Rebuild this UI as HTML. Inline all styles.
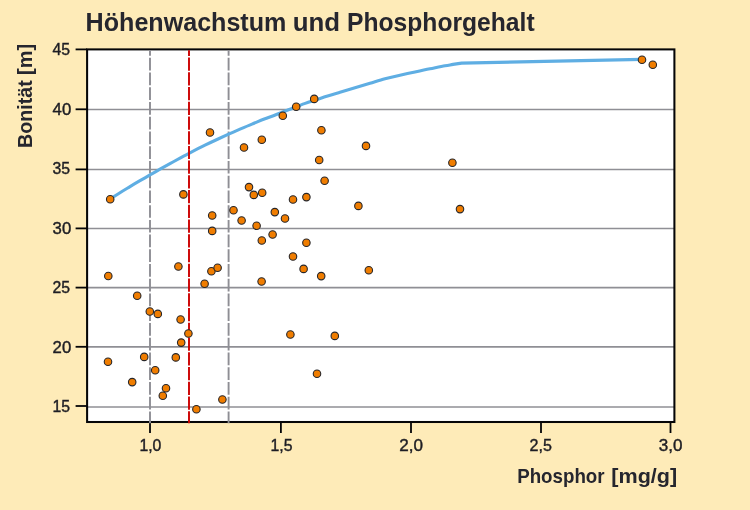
<!DOCTYPE html>
<html lang="de"><head><meta charset="utf-8"><title>Höhenwachstum und Phosphorgehalt</title>
<style>
html,body{margin:0;padding:0;background:#FEEBB8;}
body{width:750px;height:510px;overflow:hidden;}
svg{display:block;font-family:"Liberation Sans",sans-serif;}
.t{font-weight:bold;fill:#26262e;}
.n{font-size:15.8px;fill:#1e1e24;stroke:#1e1e24;stroke-width:0.4px;}
</style></head><body>
<svg width="750" height="510" viewBox="0 0 750 510">
<rect x="0" y="0" width="750" height="510" fill="#FEEBB8"/>
<rect x="87.1" y="49.4" width="587.3" height="372.6" fill="#ffffff"/>
<line x1="87.1" y1="109.5" x2="674.4" y2="109.5" stroke="#8f8f95" stroke-width="1.7"/>
<line x1="87.1" y1="169.5" x2="674.4" y2="169.5" stroke="#8f8f95" stroke-width="1.7"/>
<line x1="87.1" y1="228.5" x2="674.4" y2="228.5" stroke="#8f8f95" stroke-width="1.7"/>
<line x1="87.1" y1="287.7" x2="674.4" y2="287.7" stroke="#8f8f95" stroke-width="1.7"/>
<line x1="87.1" y1="346.9" x2="674.4" y2="346.9" stroke="#8f8f95" stroke-width="1.7"/>
<line x1="87.1" y1="407.0" x2="674.4" y2="407.0" stroke="#8f8f95" stroke-width="1.7"/>
<rect x="87.1" y="49.4" width="587.3" height="372.6" fill="none" stroke="#050507" stroke-width="2.05"/>
<line x1="75.6" y1="49.4" x2="87.1" y2="49.4" stroke="#050507" stroke-width="1.8"/>
<line x1="75.6" y1="109.3" x2="87.1" y2="109.3" stroke="#050507" stroke-width="1.8"/>
<line x1="75.6" y1="169.4" x2="87.1" y2="169.4" stroke="#050507" stroke-width="1.8"/>
<line x1="75.6" y1="228.4" x2="87.1" y2="228.4" stroke="#050507" stroke-width="1.8"/>
<line x1="75.6" y1="287.6" x2="87.1" y2="287.6" stroke="#050507" stroke-width="1.8"/>
<line x1="75.6" y1="346.8" x2="87.1" y2="346.8" stroke="#050507" stroke-width="1.8"/>
<line x1="75.6" y1="406.0" x2="87.1" y2="406.0" stroke="#050507" stroke-width="1.8"/>
<line x1="150.0" y1="422.0" x2="150.0" y2="433.0" stroke="#050507" stroke-width="1.8"/>
<line x1="280.9" y1="422.0" x2="280.9" y2="433.0" stroke="#050507" stroke-width="1.8"/>
<line x1="411.0" y1="422.0" x2="411.0" y2="433.0" stroke="#050507" stroke-width="1.8"/>
<line x1="541.0" y1="422.0" x2="541.0" y2="433.0" stroke="#050507" stroke-width="1.8"/>
<line x1="670.5" y1="422.0" x2="670.5" y2="433.0" stroke="#050507" stroke-width="1.8"/>
<line x1="150.0" y1="50.3" x2="150.0" y2="423.2" stroke="#8e8e94" stroke-width="1.9" stroke-dasharray="12.7 2.04" stroke-dashoffset="7.3"/>
<line x1="228.6" y1="50.3" x2="228.6" y2="423.2" stroke="#8e8e94" stroke-width="1.9" stroke-dasharray="12.7 2.04" stroke-dashoffset="7.3"/>
<path d="M110.2,198.9 C111.8,197.9 116.7,194.8 120,192.7 C123.3,190.6 126.7,188.6 130,186.6 C133.3,184.6 136.7,182.6 140,180.7 C143.3,178.8 146.7,176.8 150,174.9 C153.3,173.0 156.7,171.1 160,169.2 C163.3,167.3 166.7,165.4 170,163.6 C173.3,161.8 176.8,159.9 180,158.2 C183.2,156.5 184.8,155.6 189,153.4 C193.2,151.2 200.3,147.5 205,145.2 C209.7,142.9 213.1,141.3 217,139.5 C220.9,137.7 224.8,135.9 228.6,134.2 C232.4,132.5 236.1,130.9 240,129.2 C243.9,127.5 247.8,125.8 252,124.1 C256.2,122.4 260.8,120.4 265,118.8 C269.2,117.2 273.0,115.8 277,114.2 C281.0,112.7 284.4,111.3 289.1,109.5 C293.8,107.7 299.2,105.5 305.2,103.4 C311.2,101.3 319.2,98.7 325,96.8 C330.8,94.9 335.0,93.7 340,92.2 C345.0,90.7 350.0,89.3 355,87.8 C360.0,86.3 365.0,84.8 370,83.3 C375.0,81.8 380.0,80.1 385,78.8 C390.0,77.5 395.0,76.3 400,75.2 C405.0,74.1 410.0,73.1 415,72.0 C420.0,70.9 425.0,69.8 430,68.8 C435.0,67.8 441.2,66.5 445,65.8 C448.8,65.1 450.2,64.9 453,64.4 C455.8,64.0 460.2,63.3 461.7,63.1 L642,59.4" fill="none" stroke="#5faee3" stroke-width="3.1" stroke-linejoin="round" stroke-linecap="round"/>
<line x1="189.0" y1="50.3" x2="189.0" y2="423.2" stroke="#cc0000" stroke-width="1.9" stroke-dasharray="13.24 1.5" stroke-dashoffset="7.6"/>
<circle cx="210" cy="132.5" r="3.75" fill="#f07d00" stroke="#26262a" stroke-width="1.1"/>
<circle cx="110.2" cy="199.2" r="3.75" fill="#f07d00" stroke="#26262a" stroke-width="1.1"/>
<circle cx="183.4" cy="194.4" r="3.75" fill="#f07d00" stroke="#26262a" stroke-width="1.1"/>
<circle cx="212.2" cy="215.5" r="3.75" fill="#f07d00" stroke="#26262a" stroke-width="1.1"/>
<circle cx="233.5" cy="210.2" r="3.75" fill="#f07d00" stroke="#26262a" stroke-width="1.1"/>
<circle cx="212.2" cy="230.9" r="3.75" fill="#f07d00" stroke="#26262a" stroke-width="1.1"/>
<circle cx="178.4" cy="266.5" r="3.75" fill="#f07d00" stroke="#26262a" stroke-width="1.1"/>
<circle cx="108.3" cy="276.0" r="3.75" fill="#f07d00" stroke="#26262a" stroke-width="1.1"/>
<circle cx="211.4" cy="271.3" r="3.75" fill="#f07d00" stroke="#26262a" stroke-width="1.1"/>
<circle cx="217.6" cy="267.7" r="3.75" fill="#f07d00" stroke="#26262a" stroke-width="1.1"/>
<circle cx="204.6" cy="283.8" r="3.75" fill="#f07d00" stroke="#26262a" stroke-width="1.1"/>
<circle cx="137.2" cy="295.7" r="3.75" fill="#f07d00" stroke="#26262a" stroke-width="1.1"/>
<circle cx="149.8" cy="311.5" r="3.75" fill="#f07d00" stroke="#26262a" stroke-width="1.1"/>
<circle cx="157.8" cy="313.9" r="3.75" fill="#f07d00" stroke="#26262a" stroke-width="1.1"/>
<circle cx="180.6" cy="319.5" r="3.75" fill="#f07d00" stroke="#26262a" stroke-width="1.1"/>
<circle cx="188.4" cy="333.5" r="3.75" fill="#f07d00" stroke="#26262a" stroke-width="1.1"/>
<circle cx="181.2" cy="342.6" r="3.75" fill="#f07d00" stroke="#26262a" stroke-width="1.1"/>
<circle cx="144.2" cy="356.9" r="3.75" fill="#f07d00" stroke="#26262a" stroke-width="1.1"/>
<circle cx="175.8" cy="357.4" r="3.75" fill="#f07d00" stroke="#26262a" stroke-width="1.1"/>
<circle cx="108" cy="361.7" r="3.75" fill="#f07d00" stroke="#26262a" stroke-width="1.1"/>
<circle cx="155.2" cy="370.3" r="3.75" fill="#f07d00" stroke="#26262a" stroke-width="1.1"/>
<circle cx="132.2" cy="382.1" r="3.75" fill="#f07d00" stroke="#26262a" stroke-width="1.1"/>
<circle cx="166" cy="388.3" r="3.75" fill="#f07d00" stroke="#26262a" stroke-width="1.1"/>
<circle cx="162.8" cy="395.7" r="3.75" fill="#f07d00" stroke="#26262a" stroke-width="1.1"/>
<circle cx="222.4" cy="399.5" r="3.75" fill="#f07d00" stroke="#26262a" stroke-width="1.1"/>
<circle cx="196.4" cy="409.3" r="3.75" fill="#f07d00" stroke="#26262a" stroke-width="1.1"/>
<circle cx="314.2" cy="98.9" r="3.75" fill="#f07d00" stroke="#26262a" stroke-width="1.1"/>
<circle cx="296.2" cy="106.7" r="3.75" fill="#f07d00" stroke="#26262a" stroke-width="1.1"/>
<circle cx="282.8" cy="115.7" r="3.75" fill="#f07d00" stroke="#26262a" stroke-width="1.1"/>
<circle cx="321.4" cy="130.3" r="3.75" fill="#f07d00" stroke="#26262a" stroke-width="1.1"/>
<circle cx="261.8" cy="139.7" r="3.75" fill="#f07d00" stroke="#26262a" stroke-width="1.1"/>
<circle cx="244" cy="147.5" r="3.75" fill="#f07d00" stroke="#26262a" stroke-width="1.1"/>
<circle cx="366" cy="145.9" r="3.75" fill="#f07d00" stroke="#26262a" stroke-width="1.1"/>
<circle cx="319.2" cy="160.0" r="3.75" fill="#f07d00" stroke="#26262a" stroke-width="1.1"/>
<circle cx="324.6" cy="180.7" r="3.75" fill="#f07d00" stroke="#26262a" stroke-width="1.1"/>
<circle cx="249" cy="187.1" r="3.75" fill="#f07d00" stroke="#26262a" stroke-width="1.1"/>
<circle cx="262.2" cy="192.7" r="3.75" fill="#f07d00" stroke="#26262a" stroke-width="1.1"/>
<circle cx="253.8" cy="194.9" r="3.75" fill="#f07d00" stroke="#26262a" stroke-width="1.1"/>
<circle cx="306.4" cy="197.1" r="3.75" fill="#f07d00" stroke="#26262a" stroke-width="1.1"/>
<circle cx="293" cy="199.5" r="3.75" fill="#f07d00" stroke="#26262a" stroke-width="1.1"/>
<circle cx="358.4" cy="205.9" r="3.75" fill="#f07d00" stroke="#26262a" stroke-width="1.1"/>
<circle cx="274.8" cy="212.1" r="3.75" fill="#f07d00" stroke="#26262a" stroke-width="1.1"/>
<circle cx="285" cy="218.5" r="3.75" fill="#f07d00" stroke="#26262a" stroke-width="1.1"/>
<circle cx="241.6" cy="220.5" r="3.75" fill="#f07d00" stroke="#26262a" stroke-width="1.1"/>
<circle cx="256.6" cy="225.7" r="3.75" fill="#f07d00" stroke="#26262a" stroke-width="1.1"/>
<circle cx="272.6" cy="234.5" r="3.75" fill="#f07d00" stroke="#26262a" stroke-width="1.1"/>
<circle cx="261.8" cy="240.5" r="3.75" fill="#f07d00" stroke="#26262a" stroke-width="1.1"/>
<circle cx="306.4" cy="242.8" r="3.75" fill="#f07d00" stroke="#26262a" stroke-width="1.1"/>
<circle cx="293" cy="256.5" r="3.75" fill="#f07d00" stroke="#26262a" stroke-width="1.1"/>
<circle cx="303.6" cy="268.9" r="3.75" fill="#f07d00" stroke="#26262a" stroke-width="1.1"/>
<circle cx="321.2" cy="276.1" r="3.75" fill="#f07d00" stroke="#26262a" stroke-width="1.1"/>
<circle cx="368.8" cy="270.3" r="3.75" fill="#f07d00" stroke="#26262a" stroke-width="1.1"/>
<circle cx="261.6" cy="281.5" r="3.75" fill="#f07d00" stroke="#26262a" stroke-width="1.1"/>
<circle cx="290.4" cy="334.5" r="3.75" fill="#f07d00" stroke="#26262a" stroke-width="1.1"/>
<circle cx="334.8" cy="335.9" r="3.75" fill="#f07d00" stroke="#26262a" stroke-width="1.1"/>
<circle cx="317" cy="373.7" r="3.75" fill="#f07d00" stroke="#26262a" stroke-width="1.1"/>
<circle cx="452.4" cy="162.7" r="3.75" fill="#f07d00" stroke="#26262a" stroke-width="1.1"/>
<circle cx="460" cy="209.1" r="3.75" fill="#f07d00" stroke="#26262a" stroke-width="1.1"/>
<circle cx="642" cy="59.7" r="3.75" fill="#f07d00" stroke="#26262a" stroke-width="1.1"/>
<circle cx="652.8" cy="64.7" r="3.75" fill="#f07d00" stroke="#26262a" stroke-width="1.1"/>
<text class="t" transform="translate(85.62,31.1) scale(0.9922,1)" font-size="25.3">Höhenwachstum</text>
<text class="t" transform="translate(292.79,31.1) scale(1.0215,1)" font-size="25.3">und</text>
<text class="t" transform="translate(347.05,31.1) scale(0.9745,1)" font-size="25.3">Phosphorgehalt</text>
<text class="n" transform="translate(70.1,54.5) scale(1.0,1)" text-anchor="end">45</text>
<text class="n" transform="translate(71.2,114.5) scale(1.06,1)" text-anchor="end">40</text>
<text class="n" transform="translate(70.1,173.6) scale(1.0,1)" text-anchor="end">35</text>
<text class="n" transform="translate(71.2,233.6) scale(1.06,1)" text-anchor="end">30</text>
<text class="n" transform="translate(70.1,292.8) scale(1.0,1)" text-anchor="end">25</text>
<text class="n" transform="translate(71.2,353.0) scale(1.06,1)" text-anchor="end">20</text>
<text class="n" transform="translate(70.1,411.8) scale(1.0,1)" text-anchor="end">15</text>
<text class="n" transform="translate(150.4,451.3) scale(1.0,1)" text-anchor="middle">1,0</text>
<text class="n" transform="translate(281.5,451.3) scale(1.0,1)" text-anchor="middle">1,5</text>
<text class="n" transform="translate(411.1,451.3) scale(1.08,1)" text-anchor="middle">2,0</text>
<text class="n" transform="translate(540.8,451.3) scale(1.02,1)" text-anchor="middle">2,5</text>
<text class="n" transform="translate(670.6,451.3) scale(1.08,1)" text-anchor="middle">3,0</text>
<text class="t" transform="translate(517.14,483.4) scale(0.9419,1)" font-size="19.9">Phosphor</text>
<text class="t" transform="translate(611.27,483.4) scale(1.0855,1)" font-size="19.9">[mg/g]</text>
<text class="t" transform="translate(32.2,147.92) rotate(-90) scale(0.9879,1)" font-size="19.9">Bonität</text>
<text class="t" transform="translate(32.2,74.93) rotate(-90) scale(1.0025,1)" font-size="19.9">[m]</text>
</svg>
</body></html>
